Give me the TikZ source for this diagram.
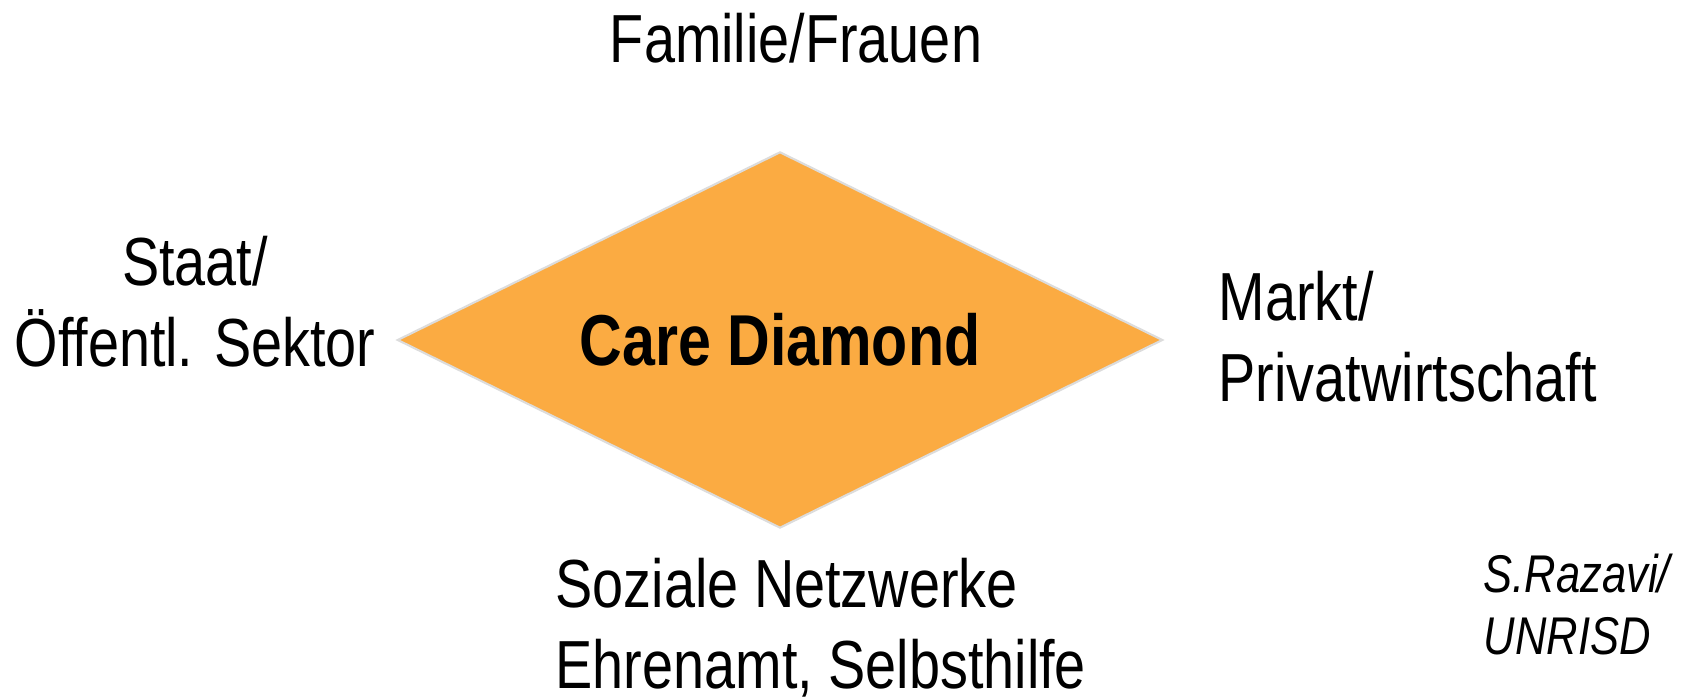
\documentclass[tikz,border=0pt]{standalone}
\usepackage{fontspec}
\setmainfont{Liberation Sans}[FakeStretch=0.82]
\usetikzlibrary{shapes.geometric}
\definecolor{careorange}{HTML}{FBAB42}
\definecolor{careedge}{HTML}{DCDCDC}
\newcommand\sectorfont{\fontsize{19.35pt}{23.05pt}\selectfont}
\newcommand\sourcefont{\fontsize{15.1pt}{17.9pt}\selectfont\itshape}

\begin{document}
\begin{tikzpicture}[x=0.01cm, y=-0.01cm,
    sector/.style={inner sep=0pt, font=\sectorfont},
    source/.style={inner sep=0pt, font=\sourcefont, align=left, anchor=base west},
    carediamond/.style={diamond, aspect=2.03, fill=careorange, draw=careedge, line width=0.6pt,
        inner sep=0pt, minimum width=7.65cm, minimum height=3.76cm,
        font=\fontsize{20.5pt}{24pt}\selectfont\bfseries}]
\useasboundingbox (0,0) rectangle (1686,698);
% the diamond
\node[carediamond] (care) at (780,340) {Care Diamond};
% the four sectors round it (base = last line)
\node[sector, anchor=base] (familie) at (796,63) {Familie/Frauen};
\node[sector, anchor=base, align=center] (staat) at (195,367) {Staat/\\Öffentl. Sektor};
\node[sector, anchor=base west, align=left] (markt) at (1218,402) {Markt/\\Privatwirtschaft};
\node[sector, anchor=base west, align=left] (netz) at (555,689) {Soziale Netzwerke\\Ehrenamt, Selbsthilfe};
% source
\node[source] (quelle) at (1483,655) {S.Razavi/\\UNRISD};
\end{tikzpicture}
\end{document}
